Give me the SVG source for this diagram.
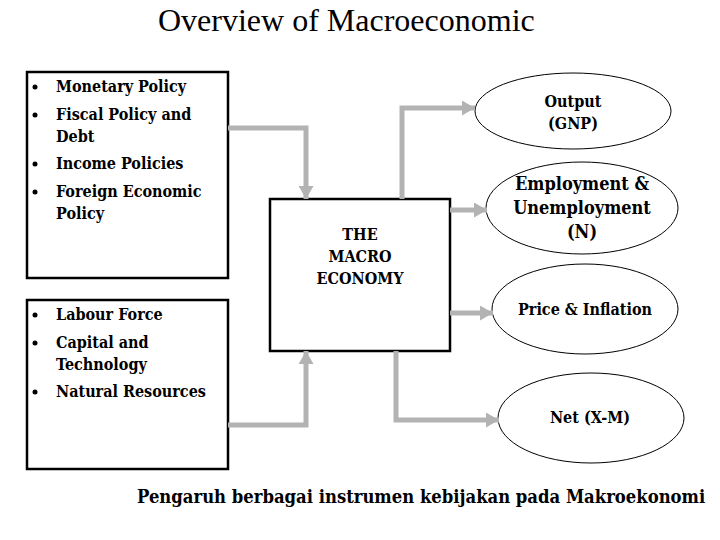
<svg xmlns="http://www.w3.org/2000/svg" width="720" height="540" viewBox="0 0 720 540">
<defs>
<style>
.box{fill:#fff;stroke:#000;stroke-width:2.5}
.ell{fill:#fff;stroke:#000;stroke-width:1}
.t{font-family:"DejaVu Serif Condensed","DejaVu Serif",serif;font-stretch:condensed;font-weight:bold;fill:#000;font-size:16px}
.c{text-anchor:middle}
.title{font-family:"Liberation Serif","Times New Roman",serif;font-size:32px;fill:#000}
.conn{fill:none;stroke:#b3b3b3;stroke-width:5;marker-end:url(#ah)}
</style>
<marker id="ah" markerUnits="userSpaceOnUse" markerWidth="13" markerHeight="15" refX="13" refY="7.5" orient="auto" viewBox="0 0 13 15">
<path d="M0,0 L13,7.5 L0,15 z" fill="#b3b3b3"/>
</marker>
</defs>
<rect width="720" height="540" fill="#fff"/>
<text class="title" x="158" y="31">Overview of Macroeconomic</text>

<g id="policies">
<rect class="box" x="27" y="72" width="201" height="206"/>
<text class="t" x="56" y="92">Monetary Policy</text>
<text class="t" x="56" y="120">Fiscal Policy and</text>
<text class="t" x="56" y="142">Debt</text>
<text class="t" x="56" y="169">Income Policies</text>
<text class="t" x="56" y="197">Foreign Economic</text>
<text class="t" x="56" y="219">Policy</text>
<g fill="#000"><circle cx="35" cy="87" r="2.5"/><circle cx="35" cy="115" r="2.5"/><circle cx="35" cy="164" r="2.5"/><circle cx="35" cy="192" r="2.5"/></g>
</g>

<g id="resources">
<rect class="box" x="27" y="300" width="201" height="169"/>
<text class="t" x="56" y="320">Labour Force</text>
<text class="t" x="56" y="348">Capital and</text>
<text class="t" x="56" y="370">Technology</text>
<text class="t" x="56" y="397">Natural Resources</text>
<g fill="#000"><circle cx="35" cy="315" r="2.5"/><circle cx="35" cy="343" r="2.5"/><circle cx="35" cy="392" r="2.5"/></g>
</g>

<g id="macro">
<rect class="box" x="270" y="199" width="180" height="152"/>
<text class="t c" x="360" y="240">THE</text>
<text class="t c" x="360" y="262">MACRO</text>
<text class="t c" x="360" y="284">ECONOMY</text>
</g>

<g id="output">
<ellipse class="ell" cx="573" cy="111" rx="98" ry="38"/>
<text class="t c" x="573" y="107">Output</text>
<text class="t c" x="573" y="129">(GNP)</text>
</g>

<g id="employment">
<ellipse class="ell" cx="582" cy="208" rx="96" ry="46"/>
<text class="t c" x="582" y="190" style="font-size:18px">Employment &amp;</text>
<text class="t c" x="582" y="214" style="font-size:18px">Unemployment</text>
<text class="t c" x="582" y="238" style="font-size:18px">(N)</text>
</g>

<g id="price">
<ellipse class="ell" cx="585" cy="309" rx="93" ry="45"/>
<text class="t c" x="585" y="315">Price &amp; Inflation</text>
</g>

<g id="net">
<ellipse class="ell" cx="591" cy="418" rx="93" ry="45"/>
<text class="t c" x="590" y="423">Net (X-M)</text>
</g>

<g id="connectors">
<path class="conn" d="M228,128 H306 V199"/>
<path class="conn" d="M228,425 H306 V351"/>
<path class="conn" d="M402,199 V108 H475"/>
<path class="conn" d="M450,210 H487"/>
<path class="conn" d="M450,313 H493"/>
<path class="conn" d="M396,351 V420 H499"/>
</g>

<text class="t" x="137" y="503" style="font-size:18.3px">Pengaruh berbagai instrumen kebijakan pada Makroekonomi</text>
</svg>
